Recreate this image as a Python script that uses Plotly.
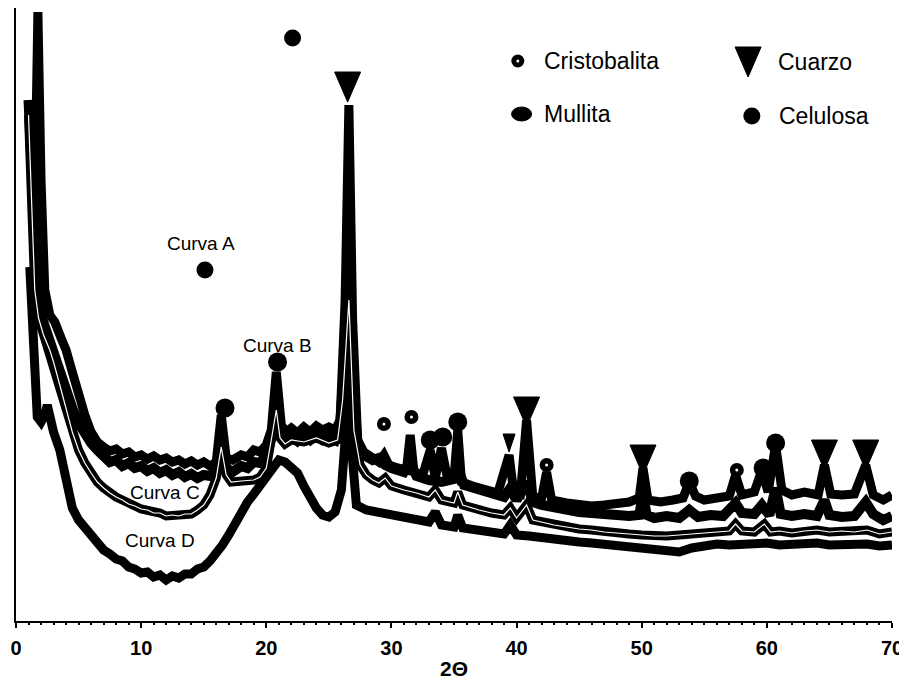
import plotly.graph_objects as go

# ---------------- data (2θ, intensity in arbitrary units) ----------------
a_x = [1.5, 1.75, 2.0, 2.3, 2.7, 3.1, 3.6, 4.0, 4.5, 5.0, 5.5, 6.0, 6.5, 7.0, 7.5, 8.0, 8.5, 9.0, 9.5, 10.0,
       10.5, 11.0, 11.5, 12.0, 12.5, 13.0, 13.5, 14.0, 14.5, 15.0, 15.5, 16.0, 16.4, 16.8, 17.3, 18.0, 18.5,
       19.0, 19.5, 20.0, 20.4, 20.8, 21.2, 21.6, 22.0, 22.5, 23.0, 23.5, 24.0, 24.5, 25.0, 25.5, 25.9, 26.3,
       26.6, 26.9, 27.3, 27.8, 28.5, 29.0, 29.4, 29.8, 30.5, 31.2, 31.5, 31.8, 32.5, 33.1, 33.5, 34.0, 34.5,
       35.0, 35.3, 35.6, 36.5, 37.5, 38.5, 39.4, 39.8, 40.3, 40.8, 41.3, 42.0, 42.4, 42.8, 44.0, 45.0, 46.0,
       47.0, 48.0, 49.0, 49.8, 50.1, 50.5, 51.5, 52.5, 53.3, 53.8, 54.3, 55.0, 56.0, 57.0, 57.5, 58.0, 59.0,
       59.6, 60.1, 60.7, 61.2, 62.0, 63.0, 64.1, 64.6, 65.1, 66.0, 67.0, 67.9, 68.5, 69.3, 70.0]
a_y = [421, 609, 441, 331, 306, 299, 283, 271, 249, 226, 206, 189, 179, 174, 170, 172, 167, 169, 164, 166,
       162, 165, 161, 163, 159, 161, 157, 160, 156, 159, 155, 159, 206, 163, 161, 166, 164,
       171, 169, 176, 191, 249, 196, 189, 193, 188, 194, 189, 195, 191, 194, 191, 201, 321,
       516, 301, 181, 169, 163, 159, 166, 156, 153, 151, 186, 149, 146, 171, 143, 173, 141,
       143, 191, 139, 135, 131, 128, 166, 126, 126, 201, 124, 123, 149, 121, 118, 116, 115,
       116, 118, 119, 123, 153, 121, 119, 121, 123, 139, 125, 121, 123, 125, 146, 126, 129,
       151, 129, 176, 131, 126, 129, 126, 156, 127, 126, 127, 156, 126, 121, 126]

b_x = [1.0, 1.2, 1.4, 1.7, 2.0, 2.5, 3.0, 3.5, 4.0, 4.5, 5.0, 5.5, 6.0, 6.5, 7.0, 7.5, 8.0, 8.5, 9.0, 9.5,
       10.0, 10.5, 11.0, 11.5, 12.0, 12.5, 13.0, 13.5, 14.0, 14.5, 15.0, 15.5, 16.0, 16.4, 16.8, 17.3, 18.0,
       18.5, 19.0, 19.5, 20.0, 20.4, 20.8, 21.2, 21.6, 22.0, 22.5, 23.0, 23.5, 24.0, 24.5, 25.0, 25.5, 25.9,
       26.3, 26.6, 26.9, 27.3, 27.8, 28.5, 29.0, 29.5, 30.0, 31.0, 31.5, 32.0, 33.0, 34.0, 35.0, 35.3, 35.8,
       37.0, 38.0, 39.0, 39.5, 40.0, 40.8, 41.3, 42.0, 43.0, 44.0, 45.0, 46.0, 47.0, 48.0, 49.0, 49.8, 50.1,
       50.4, 51.0, 52.0, 53.0, 53.8, 54.5, 55.5, 56.5, 57.5, 58.0, 59.0, 59.6, 60.2, 60.7, 61.1, 62.0, 63.0,
       64.0, 64.6, 65.0, 66.0, 67.0, 67.9, 68.5, 69.3, 70.0]
b_y = [521, 451, 391, 331, 306, 286, 269, 251, 231, 213, 198, 186, 178, 171, 165, 159, 161, 155, 158, 153,
       155, 150, 153, 148, 151, 146, 149, 144, 147, 143, 146, 145, 151, 181, 153, 149, 155,
       153, 159, 158, 166, 183, 221, 189, 181, 185, 180, 185, 181, 186, 181, 184, 181, 196,
       271, 381, 241, 176, 166, 161, 163, 156, 153, 149, 159, 145, 141, 139, 142, 153, 136,
       131, 127, 124, 133, 121, 139, 119, 116, 113, 111, 109, 108, 106, 106, 105, 106, 126,
       106, 103, 105, 103, 111, 104, 106, 105, 118, 108, 107, 116, 106, 133, 107, 105, 107,
       105, 121, 106, 104, 105, 119, 107, 101, 105]

c_x = [1.0, 1.2, 1.5, 1.8, 2.2, 2.7, 3.0, 3.5, 4.0, 4.5, 5.0, 5.5, 6.0, 6.5, 7.0, 7.5, 8.0, 8.5, 9.0, 9.5,
       10.0, 10.5, 11.0, 11.5, 12.0, 12.5, 13.0, 13.5, 14.0, 14.5, 15.0, 15.5, 16.0, 16.4, 16.8, 17.2, 18.0,
       19.0, 19.5, 20.0, 20.4, 20.8, 21.1, 21.5, 22.0, 23.0, 24.0, 25.0, 25.7, 26.1, 26.6, 27.0, 27.5, 28.0,
       28.5, 29.0, 29.5, 30.0, 31.0, 32.0, 33.0, 33.5, 34.0, 35.0, 35.3, 35.7, 37.0, 38.0, 39.0, 39.5, 40.0,
       40.8, 41.3, 42.0, 43.0, 44.0, 45.0, 46.0, 47.0, 48.0, 49.0, 50.0, 51.0, 52.0, 53.0, 54.0, 55.0, 56.0,
       57.0, 57.5, 58.0, 59.0, 59.8, 60.3, 61.0, 62.0, 63.0, 64.0, 65.0, 66.0, 67.0, 68.0, 69.0, 70.0]
c_y = [506, 441, 331, 303, 286, 271, 259, 236, 211, 189, 171, 158, 148, 139, 133, 128, 124, 121, 117, 115,
       112, 111, 108, 108, 105, 106, 105, 107, 107, 111, 116, 126, 143, 174, 146, 139, 140,
       141, 144, 153, 181, 211, 183, 177, 181, 179, 183, 178, 181, 221, 321, 191, 156, 146,
       141, 138, 143, 135, 131, 128, 124, 131, 121, 118, 129, 116, 111, 108, 106, 113, 103,
       116, 101, 99, 96, 94, 92, 91, 89, 88, 87, 86, 85, 85, 86, 87, 88, 89,
       90, 97, 90, 89, 97, 89, 90, 88, 90, 91, 89, 90, 89, 91, 87, 89]

d_x = [1.1, 1.3, 1.5, 1.7, 2.0, 2.3, 2.5, 2.7, 3.0, 3.5, 4.0, 4.5, 5.0, 5.5, 6.0, 6.5, 7.0, 7.5, 8.0, 8.5,
       9.0, 9.5, 10.0, 10.5, 11.0, 11.5, 12.0, 12.5, 13.0, 13.5, 14.0, 14.5, 15.0, 15.5, 16.0, 16.5, 17.0,
       17.5, 18.0, 18.5, 19.0, 19.5, 20.0, 20.5, 21.0, 21.5, 22.0, 22.5, 23.0, 23.5, 24.0, 24.5, 25.0, 25.5,
       26.0, 26.3, 26.6, 26.9, 27.2, 28.0, 29.0, 30.0, 31.0, 32.0, 33.0, 33.5, 34.0, 35.0, 35.3, 35.7, 37.0,
       38.0, 39.0, 39.5, 40.0, 41.0, 42.0, 43.0, 44.0, 45.0, 46.0, 47.0, 48.0, 49.0, 50.0, 51.0, 52.0, 53.0,
       54.0, 55.0, 56.0, 57.0, 58.0, 59.0, 60.0, 61.0, 62.0, 63.0, 64.0, 65.0, 66.0, 67.0, 68.0, 69.0, 70.0]
d_y = [354, 301, 241, 204, 199, 206, 216, 201, 189, 171, 141, 113, 101, 93, 84, 77, 71, 67, 62, 60,
       54, 52, 48, 49, 44, 46, 41, 45, 43, 47, 47, 52, 54, 60, 67, 76, 86,
       98, 108, 119, 127, 136, 145, 154, 161, 159, 153, 148, 135, 123, 113, 106, 104, 109,
       131, 181, 241, 161, 116, 111, 109, 106, 103, 101, 99, 109, 96, 94, 106, 93, 91,
       89, 87, 96, 86, 85, 83, 81, 81, 79, 78, 77, 76, 75, 74, 72, 70, 69,
       73, 76, 77, 76, 77, 76, 78, 76, 77, 76, 78, 76, 77, 76, 77, 75, 76]

# phase markers (2θ, intensity)
cuarzo_x = [26.5, 40.8, 50.1, 64.6, 67.9]
cuarzo_y = [534, 209, 161, 166, 166]
cuarzo_small_x = [39.4]
cuarzo_small_y = [178]
celulosa_x = [22.1, 15.1]
celulosa_y = [583, 351]
mullita_x = [20.9, 16.7, 35.3, 53.8, 59.7, 60.7, 33.1, 34.1]
mullita_y = [259, 213, 199, 140, 153, 178, 181, 184]
cristo_x = [29.4, 31.6, 42.4, 57.6]
cristo_y = [197, 204, 156, 151]

curve_labels = ["Curva A", "Curva B", "Curva C", "Curva D"]
curve_label_x = [14.8, 20.9, 11.9, 11.5]
curve_label_y = [378, 276, 129, 81]

legend_names = ["Cristobalita", "Cuarzo", "Mullita", "Celulosa"]

tick_vals = [0, 10, 20, 30, 40, 50, 60, 70]

# ---------------- figure ----------------
fig = go.Figure()
BLACK = "#000000"
FONT = "Liberation Sans, Arial, sans-serif"

for xs, ys, w in [(a_x, a_y, 9), (b_x, b_y, 10), (c_x, c_y, 9), (d_x, d_y, 9)]:
    fig.add_trace(go.Scatter(x=xs, y=ys, mode="lines", line=dict(color=BLACK, width=w),
                             showlegend=False, hoverinfo="skip"))
# light inner line of curve C
fig.add_trace(go.Scatter(x=c_x, y=c_y, mode="lines", line=dict(color="white", width=1.2),
                         showlegend=False, hoverinfo="skip"))


def tri_path(half_w, half_h):
    return f"M{-half_w},{half_h} L{half_w},{half_h} L0,{-half_h} Z"


for xv, yv in zip(cuarzo_x, cuarzo_y):
    fig.add_shape(type="path", xref="x", yref="y", xsizemode="pixel", ysizemode="pixel",
                  xanchor=xv, yanchor=yv, path=tri_path(13, 15),
                  fillcolor=BLACK, line=dict(color=BLACK, width=1))
for xv, yv in zip(cuarzo_small_x, cuarzo_small_y):
    fig.add_shape(type="path", xref="x", yref="y", xsizemode="pixel", ysizemode="pixel",
                  xanchor=xv, yanchor=yv, path=tri_path(6, 9),
                  fillcolor=BLACK, line=dict(color=BLACK, width=1))

fig.add_trace(go.Scatter(x=celulosa_x, y=celulosa_y, mode="markers",
                         marker=dict(symbol="circle", size=17, color=BLACK), showlegend=False))
fig.add_trace(go.Scatter(x=mullita_x, y=mullita_y, mode="markers",
                         marker=dict(symbol="circle", size=19, color=BLACK), showlegend=False))
fig.add_trace(go.Scatter(x=cristo_x, y=cristo_y, mode="markers",
                         marker=dict(symbol="circle", size=14, color=BLACK, line=dict(width=0)),
                         showlegend=False))
fig.add_trace(go.Scatter(x=cristo_x, y=cristo_y, mode="markers",
                         marker=dict(symbol="circle", size=3, color="white", line=dict(width=0)),
                         showlegend=False))

# legend drawn inside plot (symbols + text)
leg_sym_x = [40.1, 58.5, 40.4, 58.8]
leg_sym_y = [560, 559, 507, 505]
fig.add_trace(go.Scatter(x=[leg_sym_x[0]], y=[leg_sym_y[0]], mode="markers",
                         marker=dict(symbol="circle", size=13, color=BLACK, line=dict(width=0)),
                         showlegend=False))
fig.add_trace(go.Scatter(x=[leg_sym_x[0]], y=[leg_sym_y[0]], mode="markers",
                         marker=dict(symbol="circle", size=3, color="white", line=dict(width=0)),
                         showlegend=False))
fig.add_shape(type="path", xref="x", yref="y", xsizemode="pixel", ysizemode="pixel",
              xanchor=leg_sym_x[1], yanchor=leg_sym_y[1], path=tri_path(13, 15),
              fillcolor=BLACK, line=dict(color=BLACK, width=1))
fig.add_shape(type="circle", xref="x", yref="y", xsizemode="pixel", ysizemode="pixel",
              xanchor=leg_sym_x[2], yanchor=leg_sym_y[2], x0=-10, x1=10, y0=-7, y1=7,
              fillcolor=BLACK, line=dict(color=BLACK, width=1))
fig.add_trace(go.Scatter(x=[leg_sym_x[3]], y=[leg_sym_y[3]], mode="markers",
                         marker=dict(symbol="circle", size=17, color=BLACK), showlegend=False))

leg_text_x = [42.0, 60.7, 42.0, 60.8]
for i in range(4):
    fig.add_annotation(x=leg_text_x[i], y=leg_sym_y[i], text=legend_names[i], showarrow=False,
                       xanchor="left", yanchor="middle",
                       font=dict(family=FONT, size=23, color=BLACK))

for i in range(4):
    fig.add_annotation(x=curve_label_x[i], y=curve_label_y[i], text=curve_labels[i], showarrow=False,
                       xanchor="center", yanchor="middle",
                       font=dict(family=FONT, size=19, color=BLACK))

# page body has an 8px default margin: size the figure so it fits the 907x686 window
fig.update_layout(
    width=899, height=672,
    margin=dict(l=8, r=15, t=0, b=59),
    paper_bgcolor="white", plot_bgcolor="white",
    showlegend=False,
    font=dict(family=FONT, color=BLACK),
)
fig.update_xaxes(range=[0, 70], tickvals=tick_vals, ticktext=[f"<b>{v}</b>" for v in tick_vals],
                 ticks="outside", ticklen=5, tickwidth=1.5, tickcolor=BLACK, ticklabelstandoff=3,
                 minor=dict(ticks="outside", ticklen=2, dtick=1, tickcolor=BLACK),
                 showline=True, linecolor=BLACK, linewidth=2, showgrid=False, zeroline=False,
                 tickfont=dict(size=20, family=FONT),
                 title=dict(text="<b>2Θ</b>", font=dict(size=21, family=FONT), standoff=3))
fig.update_yaxes(range=[0, 613], showticklabels=False, ticks="", showline=True, linecolor=BLACK,
                 linewidth=2, showgrid=False, zeroline=False)

fig.write_html("out.html")
